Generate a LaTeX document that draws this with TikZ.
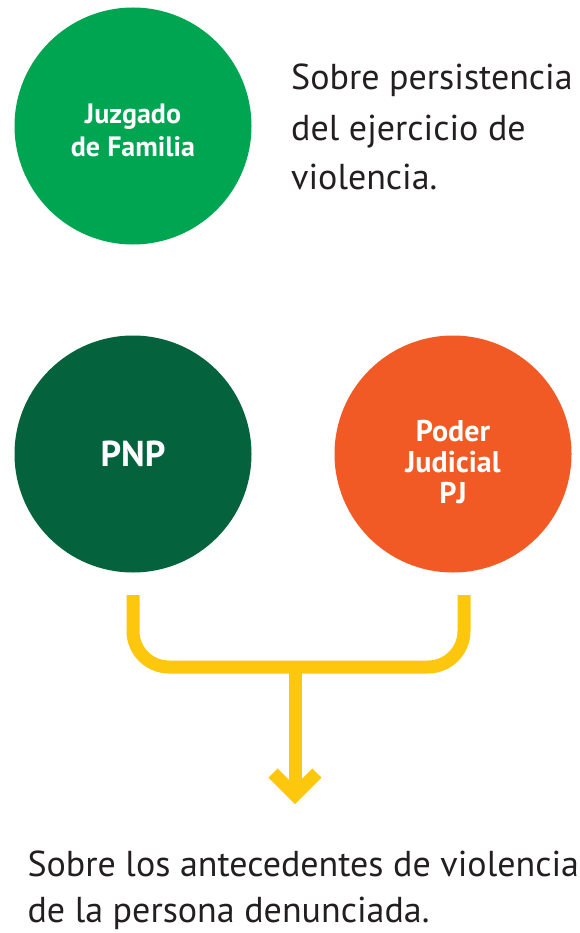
\documentclass[tikz,border=0pt]{standalone}
\usepackage{fontspec}
\setmainfont{PT Sans}
\definecolor{jgreen}{HTML}{00A551}
\definecolor{dgreen}{HTML}{04633D}
\definecolor{orng}{HTML}{F15A24}
\definecolor{yel}{HTML}{FDC70E}
\definecolor{txt}{HTML}{231F20}
\begin{document}
\begin{tikzpicture}[x=1pt,y=-1pt,
  circ/.style={circle, minimum size=237pt, inner sep=0pt, draw=none},
  ctext/.style={text=white, font=\bfseries, align=center, inner sep=0pt},
  body/.style={text=txt, anchor=base west, inner sep=0pt, font=\fontsize{36}{44}\selectfont},
  conn/.style={draw=yel, line width=13pt, line cap=butt},
]
\useasboundingbox (0,0) rectangle (579,933);
% circles
\node[circ, fill=jgreen] (jf) at (133,126) {};
\node[circ, fill=dgreen] (pnp) at (133,454) {};
\node[circ, fill=orng] (pj) at (453,454) {};
% circle labels
\node[ctext, font=\bfseries\fontsize{28}{33}\selectfont] (jft) at (133,130) {Juzgado\\de Familia};
\node[ctext, font=\bfseries\fontsize{36}{40}\selectfont] (pnpt) at (133,454) {PNP};
\node[ctext, font=\bfseries\fontsize{30}{31}\selectfont] (pjt) at (453,462) {Poder\\Judicial\\PJ};
% right text
\node[body] (r1) at (291,89.3) {Sobre persistencia};
\node[body] (r2) at (291,141) {del ejercicio de};
\node[body] (r3) at (291,190) {violencia.};
% bottom text
\node[body] (b1) at (27.3,876) {Sobre los antecedentes de violencia};
\node[body] (b2) at (27.3,922) {de la persona denunciada.};
% connector
\coordinate (pl) at (133,595);
\coordinate (pr) at (464,595);
\coordinate (mid) at (295,667);
\coordinate (tip) at (295,795);
\coordinate (al) at (273,773);
\coordinate (ar) at (317,773);
\draw[conn, rounded corners=36pt] (pl) -- (pl |- mid) -- (pr |- mid) -- (pr);
\draw[conn] (mid) -- (tip);
\draw[conn, miter limit=10] (al) -- (tip) -- (ar);
\end{tikzpicture}
\end{document}
